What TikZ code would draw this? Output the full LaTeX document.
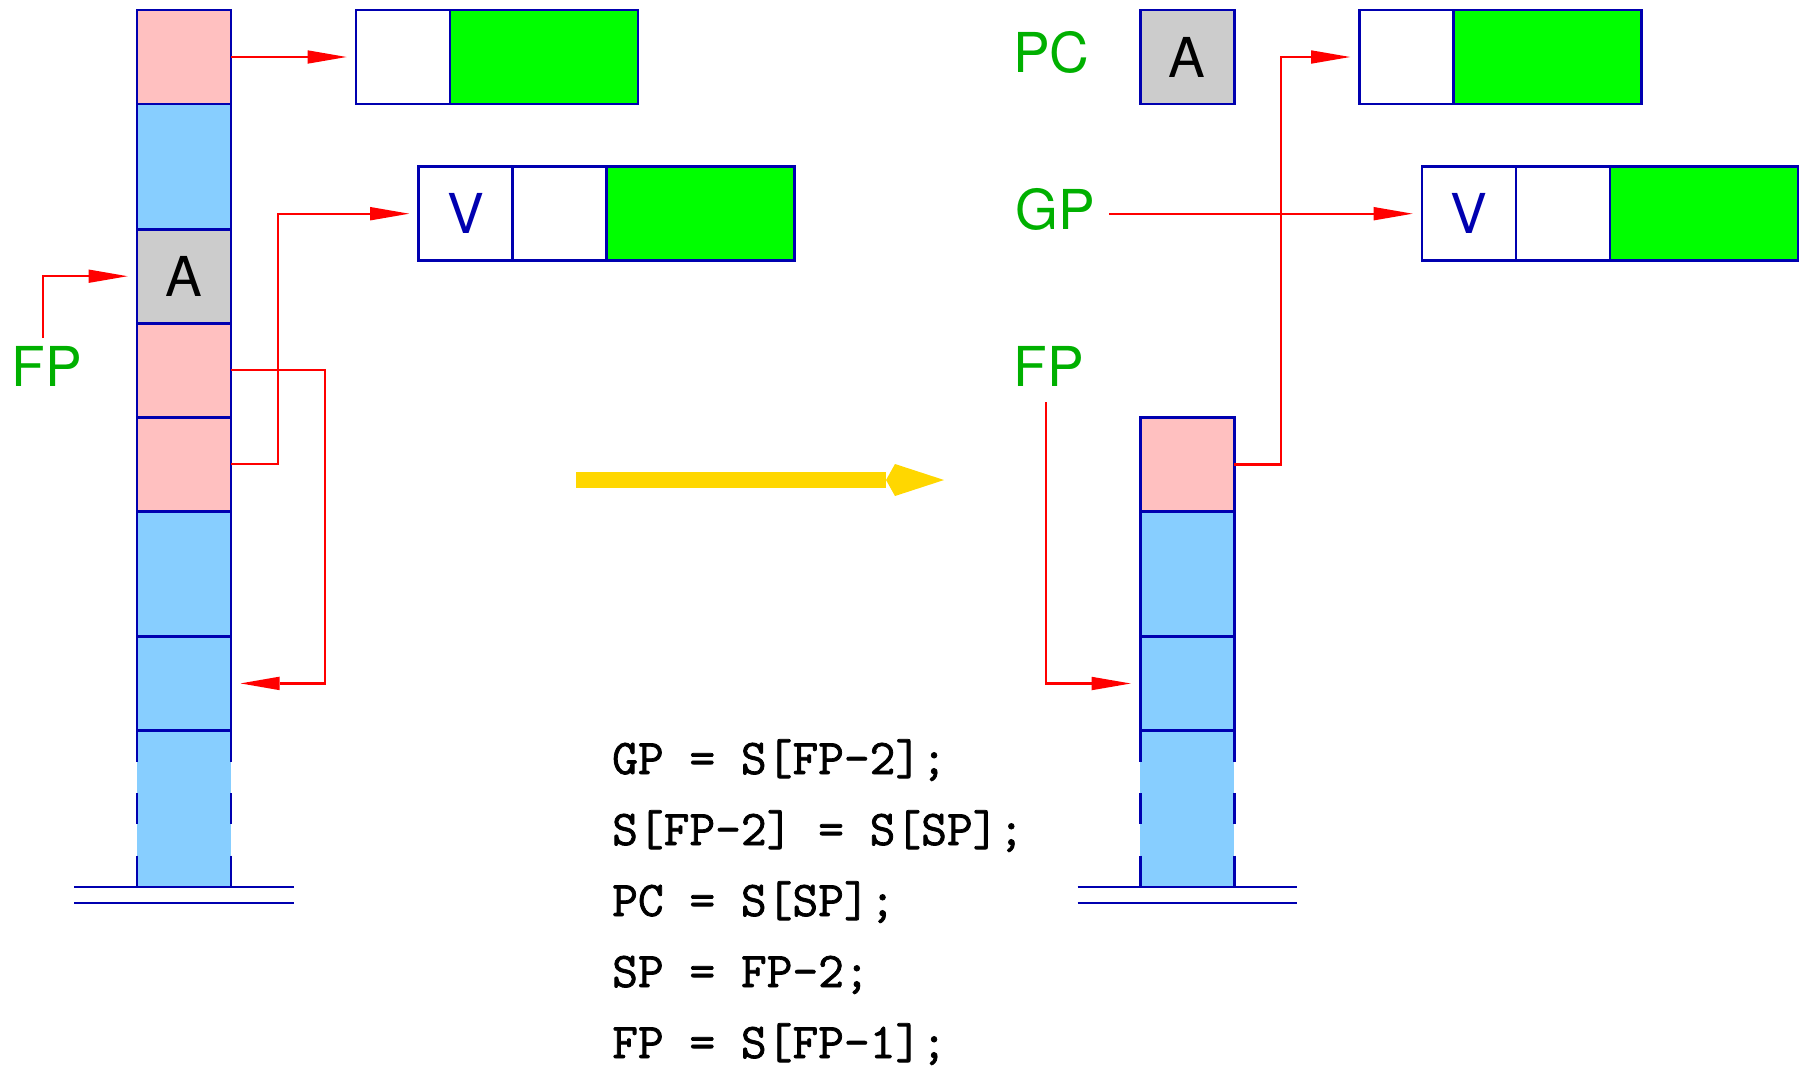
\documentclass[tikz,border=0pt]{standalone}
\usepackage{fontspec}
\newfontfamily\heros{TeX Gyre Heros}
\newfontfamily\codett[FakeBold=1.5]{Latin Modern Mono}
\usepackage{tikz}
\usetikzlibrary{calc, positioning, arrows.meta}

\definecolor{lineblue}{RGB}{0,0,176}
\definecolor{cellpink}{RGB}{255,192,192}
\definecolor{cellblue}{RGB}{135,206,255}
\definecolor{cellgray}{RGB}{204,204,204}
\definecolor{cellgreen}{RGB}{0,255,0}
\definecolor{lblgreen}{RGB}{0,176,0}
\definecolor{movegold}{RGB}{255,215,0}

\begin{document}
\begin{tikzpicture}[x=1pt, y=-1pt,
    cell/.style={rectangle, draw=lineblue, line width=2.7pt, inner sep=0pt, outer sep=0pt,
        minimum width=94pt, minimum height=94pt, font=\heros\fontsize{55}{66}\selectfont},
    tall/.style={minimum height=125.2pt},
    wide/.style={minimum width=188pt, fill=cellgreen},
    sidedash/.style={draw=lineblue, line width=2.7pt, dash pattern=on 31.3pt off 31.3pt},
    grnd/.style={draw=lineblue, line width=2.5pt},
    lbl/.style={text=lblgreen, inner sep=0pt, anchor=base west, font=\heros\fontsize{55}{66}\selectfont},
    ptr/.style={red, line width=2.4pt, -{Triangle[length=39pt, width=13.5pt, line width=0pt]}, shorten >=9.5pt},
    code/.style={anchor=base west, inner sep=0pt, font=\codett\fontsize{50}{60}\selectfont}]

    \useasboundingbox (0,0) rectangle (1803,1066);

    % Ngăn xếp bên trái (trước lệnh)
    \node[cell, fill=cellpink] (ls1) at (184,57) {};
    \node[cell, tall, fill=cellblue, below=0pt of ls1] (ls2) {};
    \node[cell, fill=cellgray, below=0pt of ls2] (ls3) {A};
    \node[cell, fill=cellpink, below=0pt of ls3] (ls4) {};
    \node[cell, fill=cellpink, below=0pt of ls4] (ls5) {};
    \node[cell, tall, fill=cellblue, below=0pt of ls5] (ls6) {};
    \node[cell, fill=cellblue, below=0pt of ls6] (ls7) {};
    \node[cell, draw=none, fill=cellblue, minimum height=156.5pt, below=0pt of ls7] (ls8) {};
    \draw[cell] (ls8.north west) -- (ls8.north east);
    \draw[sidedash] (ls8.north west) -- (ls8.south west);
    \draw[sidedash] (ls8.north east) -- (ls8.south east);

    % Đáy ngăn xếp bên trái
    \draw[grnd] ($(ls8.south west)+(-62.6,0)$) -- ($(ls8.south east)+(62.6,0)$);
    \draw[grnd] ($(ls8.south west)+(-62.6,16.2)$) -- ($(ls8.south east)+(62.6,16.2)$);

    % Các ô trên heap bên trái
    \node[cell] (hb1) at (403,57) {};
    \node[cell, wide, right=0pt of hb1] (hb2) {};
    \node[cell, text=lineblue] (hv1) at (465.7,213.7) {V};
    \node[cell, right=0pt of hv1] (hv2) {};
    \node[cell, wide, right=0pt of hv2] (hv3) {};

    \node[lbl] (fpL) at (11.3,386) {FP};

    % Mũi tên bên trái
    \draw[ptr] (ls1.east) -- (hb1.west);
    \draw[ptr] (ls5.east) -- ++(47,0) |- (hv1.west);
    \draw[ptr] (ls4.east) -- ++(94,0) |- (ls7.east);
    \draw[ptr] ([xshift=31.7pt, yshift=7.5pt]fpL.north west) |- (ls3.west);

    % Mũi tên chuyển trạng thái
    \coordinate (mvS) at (576,480);
    \coordinate (mvE) at (944,480);
    \draw[movegold, line width=15.5pt, -{Stealth[length=49pt, width=32pt, inset=-9pt, line width=0pt]}] (mvS) -- (mvE);

    % Ngăn xếp bên phải (sau lệnh)
    \node[cell, fill=cellpink] (rs1) at (1187.2,464.3) {};
    \node[cell, tall, fill=cellblue, below=0pt of rs1] (rs2) {};
    \node[cell, fill=cellblue, below=0pt of rs2] (rs3) {};
    \node[cell, draw=none, fill=cellblue, minimum height=156.5pt, below=0pt of rs3] (rs4) {};
    \draw[cell] (rs4.north west) -- (rs4.north east);
    \draw[sidedash] (rs4.north west) -- (rs4.south west);
    \draw[sidedash] (rs4.north east) -- (rs4.south east);

    % Đáy ngăn xếp bên phải
    \draw[grnd] ($(rs4.south west)+(-62.6,0)$) -- ($(rs4.south east)+(62.6,0)$);
    \draw[grnd] ($(rs4.south west)+(-62.6,16.2)$) -- ($(rs4.south east)+(62.6,16.2)$);

    % Thanh ghi và heap bên phải
    \node[cell, fill=cellgray] (pcA) at (1187.2,57) {A};
    \node[cell] (rb1) at (1406.6,57) {};
    \node[cell, wide, right=0pt of rb1] (rb2) {};
    \node[cell, text=lineblue] (rv1) at (1469.1,213.7) {V};
    \node[cell, right=0pt of rv1] (rv2) {};
    \node[cell, wide, right=0pt of rv2] (rv3) {};

    \node[lbl] (pcR) at (1013,72.5) {PC};
    \node[lbl] (gpR) at (1015.4,229) {GP};
    \node[lbl] (fpR) at (1013.7,386) {FP};

    % Mũi tên bên phải
    \draw[ptr] (rs1.east) -- ++(46.5,0) |- (rb1.west);
    \draw[ptr] ($(rv1.west -| gpR.east)+(14,0)$) -- (rv1.west);
    \draw[ptr] ([xshift=32.3pt, yshift=-16pt]fpR.south west) |- (rs3.west);

    % Đoạn mã
    \node[code] (c1) at (612,774) {GP = S[FP-2];};
    \node[code] (c2) at (612,845) {S[FP-2] = S[SP];};
    \node[code] (c3) at (612,916) {PC = S[SP];};
    \node[code] (c4) at (612,987) {SP = FP-2;};
    \node[code] (c5) at (612,1058) {FP = S[FP-1];};

\end{tikzpicture}
\end{document}
